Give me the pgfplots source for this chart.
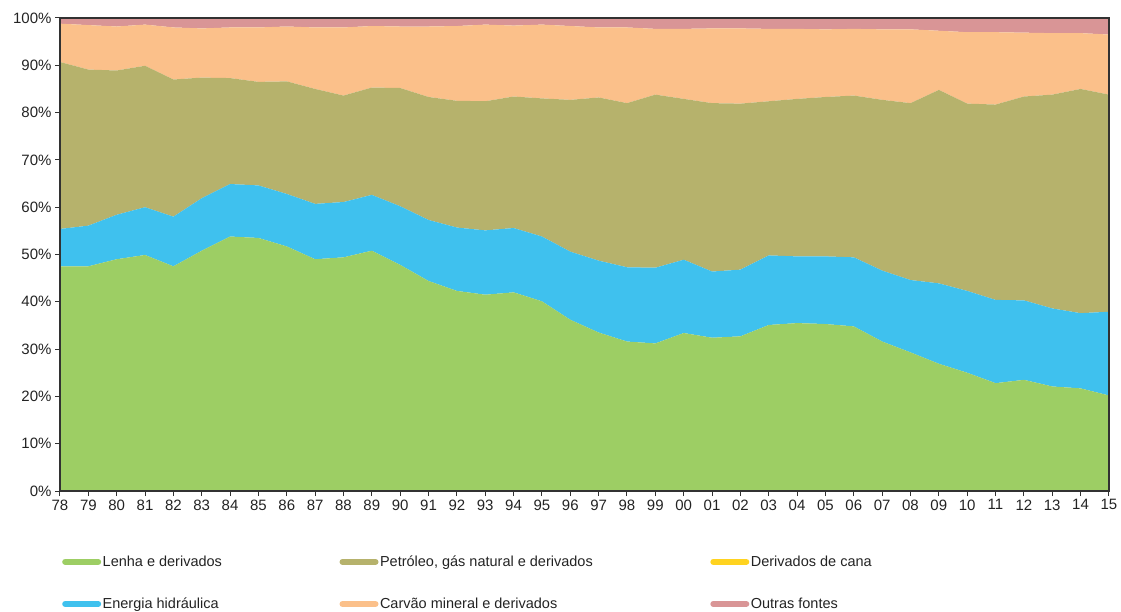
\documentclass[border=0pt]{standalone}
\usepackage{fontspec}
\setmainfont{Liberation Sans}
\usepackage{pgfplots}
\usepackage{pgfplotstable}
\pgfplotsset{compat=1.18}
\definecolor{cLenha}{RGB}{157,206,100}
\definecolor{cHidro}{RGB}{63,193,238}
\definecolor{cPetro}{RGB}{182,178,108}
\definecolor{cCana}{RGB}{255,211,32}
\definecolor{cCarvao}{RGB}{251,192,138}
\definecolor{cOutras}{RGB}{217,149,150}
\definecolor{cAxis}{RGB}{50,50,50}
\definecolor{cText}{RGB}{35,35,35}

\pgfplotstableread{
year lenha hidro petroleo cana carvao outras
1978 47.5 7.9 35.3 0 8.1 1.2
1979 47.5 8.6 33.0 0 9.4 1.5
1980 49.0 9.4 30.5 0 9.3 1.8
1981 49.9 10.1 29.9 0 8.7 1.4
1982 47.5 10.5 29.0 0 11.0 2.0
1983 50.8 11.1 25.5 0 10.4 2.2
1984 53.8 11.1 22.4 0 10.7 2.0
1985 53.5 11.1 21.9 0 11.5 2.0
1986 51.7 11.1 23.8 0 11.6 1.8
1987 49.0 11.7 24.3 0 13.0 2.0
1988 49.4 11.7 22.5 0 14.4 2.0
1989 50.8 11.8 22.7 0 13.0 1.7
1990 47.8 12.4 25.0 0 13.0 1.8
1991 44.4 12.9 26.0 0 14.9 1.8
1992 42.3 13.4 26.8 0 15.8 1.7
1993 41.5 13.6 27.3 0 16.2 1.4
1994 42.0 13.6 27.8 0 15.0 1.6
1995 40.1 13.7 29.2 0 15.6 1.4
1996 36.2 14.4 32.1 0 15.6 1.7
1997 33.5 15.2 34.5 0 14.8 2.0
1998 31.6 15.7 34.7 0 16.0 2.0
1999 31.2 16.0 36.6 0 13.9 2.3
2000 33.4 15.5 34.0 0 14.8 2.3
2001 32.4 14.0 35.6 0 15.8 2.2
2002 32.7 14.1 35.1 0 15.9 2.2
2003 35.1 14.7 32.6 0 15.3 2.3
2004 35.5 14.1 33.3 0 14.8 2.3
2005 35.3 14.3 33.7 0 14.3 2.4
2006 34.8 14.6 34.2 0 14.1 2.3
2007 31.6 15.0 36.1 0 14.9 2.4
2008 29.3 15.3 37.4 0 15.6 2.4
2009 26.9 17.0 40.9 0 12.5 2.7
2010 25.0 17.3 39.6 0 15.1 3.0
2011 22.8 17.6 41.3 0 15.3 3.0
2012 23.5 16.8 43.1 0 13.5 3.1
2013 22.1 16.5 45.2 0 13.0 3.2
2014 21.7 15.9 47.4 0 11.8 3.2
2015 20.2 17.7 45.9 0 12.7 3.5
}\datatable

\begin{document}
\begin{tikzpicture}
\begin{axis}[
  width=1049pt, height=473pt, scale only axis,
  xmin=1978, xmax=2015, ymin=0, ymax=100,
  stack plots=y,
  axis line style={draw=cAxis, line width=1.3pt},
  xtick={1978,...,2015},
  xticklabels={78,79,80,81,82,83,84,85,86,87,88,89,90,91,92,93,94,95,96,97,98,99,00,01,02,03,04,05,06,07,08,09,10,11,12,13,14,15},
  ytick={0,10,...,100},
  yticklabel={\pgfmathprintnumber{\tick}\%},
  /pgf/number format/assume math mode=true,
  tick align=outside, major tick length=5pt,
  tick style={draw=cAxis, line width=1pt},
  xtick pos=bottom, ytick pos=left,
  ticklabel style={font=\fontsize{15}{17}\selectfont, text=cText},
  axis on top,
  legend columns=3,
  legend image code/.code={\draw[#1, line width=6pt, line cap=round] (0pt,0pt) -- (33pt,0pt);},
  legend style={at={(rel axis cs:0,0)}, anchor=north west, xshift=2pt, yshift=-63pt,
    draw=none, fill=none, inner sep=0pt, row sep=27pt,
    font=\fontsize{14.5}{16}\selectfont, text=cText,
    nodes={inner sep=1.5pt},
    /tikz/every even column/.append style={column sep=116pt}},
  legend cell align=left,
]
\addplot[fill=cLenha, draw=none, forget plot] table[x=year, y=lenha] {\datatable} \closedcycle;
\addplot[fill=cHidro, draw=none, forget plot] table[x=year, y=hidro] {\datatable} \closedcycle;
\addplot[fill=cPetro, draw=none, forget plot] table[x=year, y=petroleo] {\datatable} \closedcycle;
\addplot[fill=cCarvao, draw=none, forget plot] table[x=year, y=carvao] {\datatable} \closedcycle;
\addplot[fill=cOutras, draw=none, forget plot] table[x=year, y=outras] {\datatable} \closedcycle;
\coordinate (sw) at (rel axis cs:0,0);
\coordinate (ne) at (rel axis cs:1,1);
\addlegendimage{color=cLenha}\addlegendentry{Lenha e derivados}
\addlegendimage{color=cPetro}\addlegendentry{Petróleo, gás natural e derivados}
\addlegendimage{color=cCana}\addlegendentry{Derivados de cana}
\addlegendimage{color=cHidro}\addlegendentry{Energia hidráulica}
\addlegendimage{color=cCarvao}\addlegendentry{Carvão mineral e derivados}
\addlegendimage{color=cOutras}\addlegendentry{Outras fontes}
\end{axis}
\pgfresetboundingbox
\path ([shift={(-60pt,-120pt)}]sw) rectangle ([shift={(12pt,18pt)}]ne);
\end{tikzpicture}
\end{document}
